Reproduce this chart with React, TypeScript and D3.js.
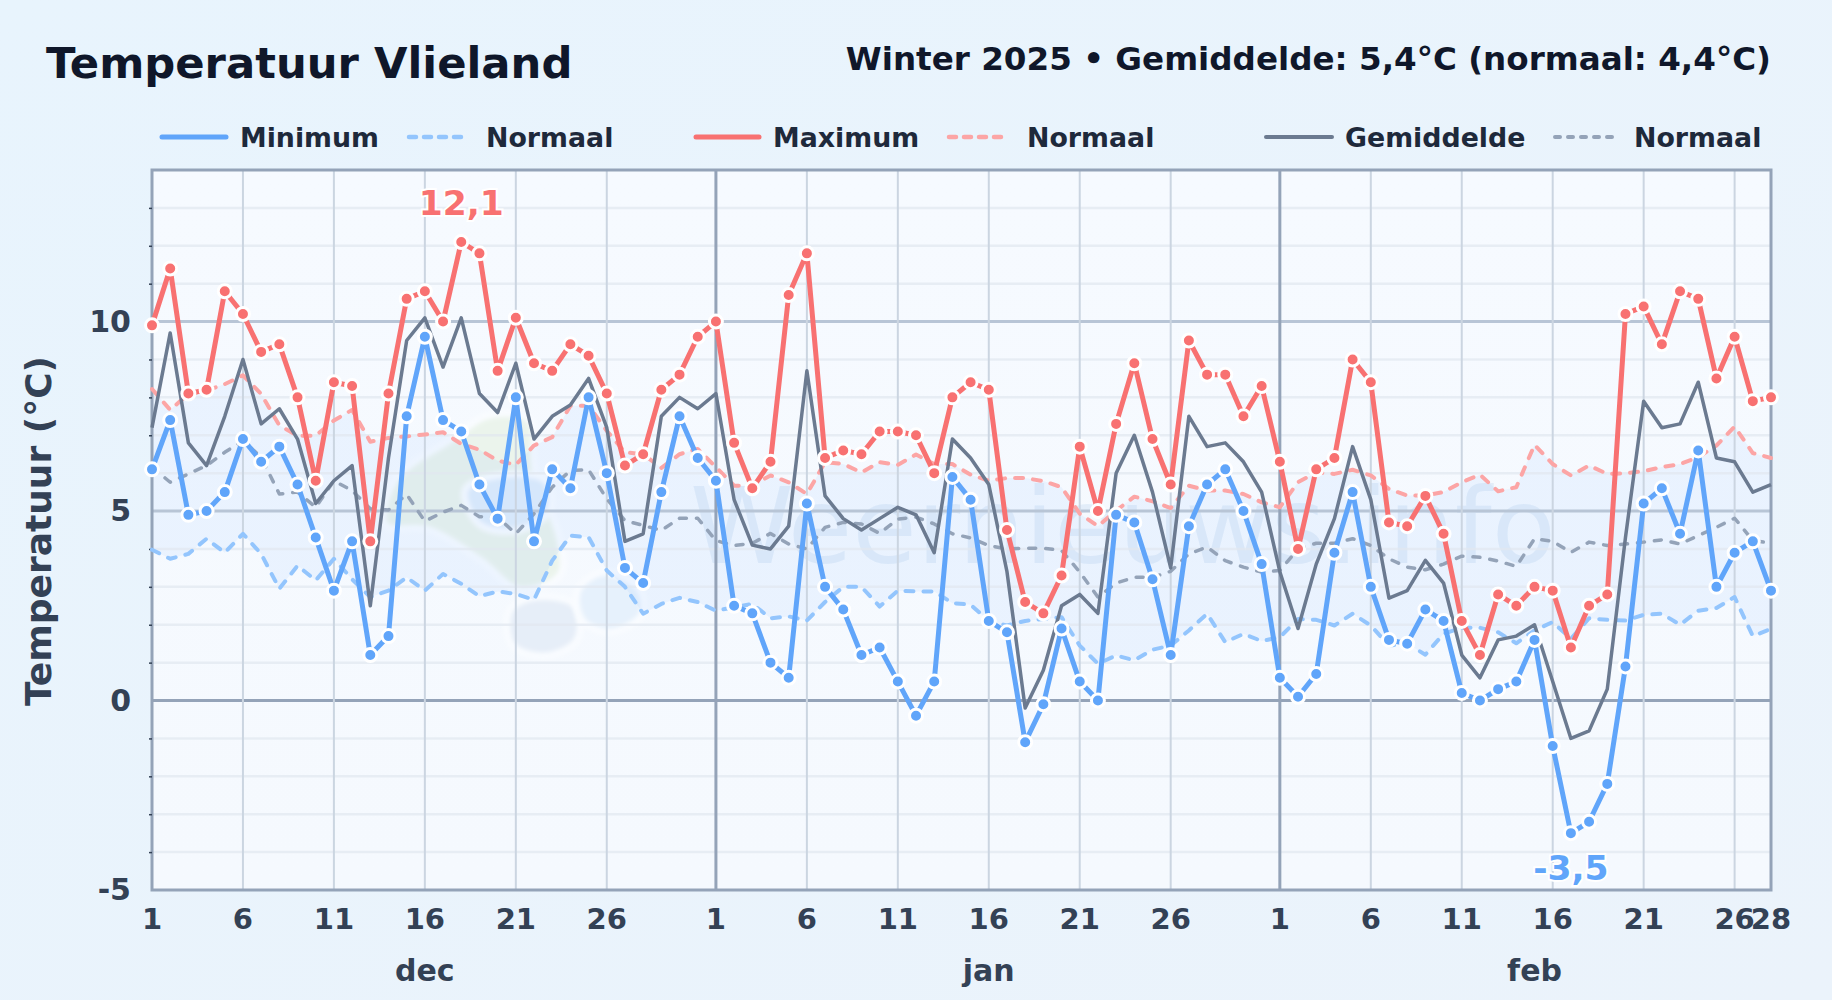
import React, { useEffect, useRef } from 'react';
import * as d3 from 'd3';

const WIDTH = 1832;
const HEIGHT = 1000;

const tempMax = [
  9.9, 11.4, 8.1, 8.2, 10.8, 10.2, 9.2, 9.4, 8.0, 5.8, 8.4, 8.3, 4.2, 8.1, 10.6, 10.8, 10.0, 12.1, 11.8, 8.7, 10.1, 8.9, 8.7, 9.4, 9.1, 8.1, 6.2, 6.5, 8.2, 8.6, 9.6,
  10.0, 6.8, 5.6, 6.3, 10.7, 11.8, 6.4, 6.6, 6.5, 7.1, 7.1, 7.0, 6.0, 8.0, 8.4, 8.2, 4.5, 2.6, 2.3, 3.3, 6.7, 5.0, 7.3, 8.9, 6.9, 5.7, 9.5, 8.6, 8.6, 7.5, 8.3,
  6.3, 4.0, 6.1, 6.4, 9.0, 8.4, 4.7, 4.6, 5.4, 4.4, 2.1, 1.2, 2.8, 2.5, 3.0, 2.9, 1.4, 2.5, 2.8, 10.2, 10.4, 9.4, 10.8, 10.6, 8.5, 9.6, 7.9, 8.0,
];

const tempMin = [
  6.1, 7.4, 4.9, 5.0, 5.5, 6.9, 6.3, 6.7, 5.7, 4.3, 2.9, 4.2, 1.2, 1.7, 7.5, 9.6, 7.4, 7.1, 5.7, 4.8, 8.0, 4.2, 6.1, 5.6, 8.0, 6.0, 3.5, 3.1, 5.5, 7.5, 6.4,
  5.8, 2.5, 2.3, 1.0, 0.6, 5.2, 3.0, 2.4, 1.2, 1.4, 0.5, -0.4, 0.5, 5.9, 5.3, 2.1, 1.8, -1.1, -0.1, 1.9, 0.5, 0.0, 4.9, 4.7, 3.2, 1.2, 4.6, 5.7, 6.1, 5.0, 3.6,
  0.6, 0.1, 0.7, 3.9, 5.5, 3.0, 1.6, 1.5, 2.4, 2.1, 0.2, 0.0, 0.3, 0.5, 1.6, -1.2, -3.5, -3.2, -2.2, 0.9, 5.2, 5.6, 4.4, 6.6, 3.0, 3.9, 4.2, 2.9,
];

const tempMean = [
  7.2, 9.7, 6.8, 6.2, 7.5, 9.0, 7.3, 7.7, 6.9, 5.2, 5.8, 6.2, 2.5, 6.4, 9.5, 10.1, 8.8, 10.1, 8.1, 7.6, 8.9, 6.9, 7.5, 7.8, 8.5, 7.2, 4.2, 4.4, 7.5, 8.0, 7.7,
  8.1, 5.3, 4.1, 4.0, 4.6, 8.7, 5.4, 4.8, 4.5, 4.8, 5.1, 4.9, 3.9, 6.9, 6.4, 5.7, 3.4, -0.2, 0.8, 2.5, 2.8, 2.3, 6.0, 7.0, 5.5, 3.5, 7.5, 6.7, 6.8, 6.3, 5.5,
  3.4, 1.9, 3.6, 4.8, 6.7, 5.3, 2.7, 2.9, 3.7, 3.1, 1.2, 0.6, 1.6, 1.7, 2.0, 0.5, -1.0, -0.8, 0.3, 4.3, 7.9, 7.2, 7.3, 8.4, 6.4, 6.3, 5.5, 5.7,
];

const normalMin = [
  3.98, 3.74, 3.87, 4.27, 3.9, 4.4, 3.87, 2.95, 3.56, 3.17, 3.74, 3.2, 2.73, 2.9, 3.25, 2.9, 3.34, 3.08, 2.75, 2.88, 2.81, 2.66, 3.69, 4.35, 4.31, 3.43, 3.0, 2.29, 2.55, 2.71, 2.6,
  2.37, 2.46, 2.55, 2.17, 2.22, 2.11, 2.6, 3.0, 3.0, 2.48, 2.9, 2.88, 2.88, 2.57, 2.53, 2.1, 1.98, 2.1, 2.15, 2.2, 1.45, 0.97, 1.19, 1.06, 1.34, 1.45, 1.85, 2.29, 1.54, 1.76, 1.57,
  1.67, 2.15, 2.13, 1.98, 2.29, 1.98, 1.45, 1.5, 1.21, 1.76, 1.92, 1.92, 1.8, 1.51, 1.85, 2.07, 1.63, 2.17, 2.13, 2.11, 2.26, 2.29, 2.0, 2.37, 2.44, 2.73, 1.7, 1.89,
];

const normalMax = [
  8.22, 7.67, 8.09, 8.18, 8.35, 8.58, 8.09, 7.26, 6.99, 6.99, 7.39, 7.67, 6.83, 6.93, 6.97, 7.02, 7.08, 6.77, 6.62, 6.33, 6.22, 6.73, 6.95, 7.78, 7.78, 7.12, 6.55, 6.5, 6.14, 6.5, 6.64,
  6.16, 5.67, 5.67, 5.94, 5.76, 5.45, 6.29, 6.24, 6.02, 6.29, 6.22, 6.49, 6.24, 6.24, 5.96, 5.8, 5.87, 5.87, 5.79, 5.63, 4.93, 4.6, 5.01, 5.38, 5.26, 5.08, 5.67, 5.54, 5.54, 5.45, 5.23,
  5.1, 5.76, 6.02, 5.98, 6.09, 5.94, 5.58, 5.41, 5.41, 5.5, 5.76, 5.96, 5.52, 5.63, 6.75, 6.24, 5.94, 6.2, 5.98, 6.0, 6.05, 6.16, 6.24, 6.42, 6.73, 7.23, 6.53, 6.4,
];

const normalMean = [
  6.16, 5.76, 5.98, 6.2, 6.55, 6.86, 6.42, 5.45, 5.5, 5.1, 5.8, 5.54, 5.06, 5.03, 5.44, 4.73, 4.97, 5.15, 4.85, 4.84, 4.4, 4.93, 5.63, 6.07, 6.09, 5.32, 4.75, 4.62, 4.49, 4.81, 4.81,
  4.22, 4.09, 4.15, 4.41, 4.13, 4.0, 4.57, 4.7, 4.66, 4.41, 4.79, 4.84, 4.66, 4.4, 4.29, 4.09, 4.0, 4.02, 4.02, 3.96, 3.39, 2.73, 3.1, 3.25, 3.25, 3.41, 3.87, 4.05, 3.69, 3.52, 3.39,
  3.43, 4.0, 4.15, 4.15, 4.27, 4.09, 3.74, 3.52, 3.45, 3.6, 3.81, 3.78, 3.68, 3.54, 4.27, 4.2, 3.91, 4.18, 4.09, 4.13, 4.18, 4.24, 4.13, 4.35, 4.57, 4.81, 4.22, 4.16,
];

const yMajorTicks = [-5, 0, 5, 10];
const yMinorTicks = [-4, -3, -2, -1, 1, 2, 3, 4, 6, 7, 8, 9, 11, 12, 13];
const monthNames = ['dec', 'jan', 'feb'];
const monthStarts = [0, 31, 62];
const monthLengths = [31, 31, 28];
const dayTicks = [1, 6, 11, 16, 21, 26];

const legendEntries = [
  { label: 'Minimum', color: '#60a5fa', x1: 162, x2: 226, tx: 240, w: 5, dash: '' },
  { label: 'Normaal', color: '#93c5fd', x1: 409, x2: 464, tx: 486, w: 4.5, dash: '7 8' },
  { label: 'Maximum', color: '#f87171', x1: 696, x2: 759, tx: 773, w: 5, dash: '' },
  { label: 'Normaal', color: '#fca5a5', x1: 949, x2: 1005, tx: 1027, w: 4.5, dash: '7 8' },
  { label: 'Gemiddelde', color: '#6b7a90', x1: 1266, x2: 1332, tx: 1345, w: 4, dash: '' },
  { label: 'Normaal', color: '#94a3b8', x1: 1555, x2: 1618, tx: 1634, w: 4, dash: '5 8' },
];

// faint map behind the chart, pixel outlines
const mapBlobs = [
  { fill: '#ebf4ec', pts: [[395, 480], [450, 440], [490, 415], [530, 420], [535, 470], [560, 540], [560, 575], [520, 590], [480, 560], [430, 530], [385, 525]] },
  { fill: '#e0edfb', pts: [[465, 490], [500, 475], [545, 480], [550, 510], [520, 530], [480, 525]] },
  { fill: '#e6eef8', pts: [[510, 610], [535, 597], [575, 605], [577, 640], [545, 656], [512, 645]] },
  { fill: '#e6f1fc', pts: [[578, 590], [605, 572], [640, 590], [642, 615], [610, 632], [582, 620]] },
];

const FONT = '"DejaVu Sans", sans-serif';

const App: React.FC = () => {
  const svgRef = useRef<SVGSVGElement>(null);

  useEffect(() => {
    if (!svgRef.current) return;

    const svg = d3.select(svgRef.current);
    svg.selectAll('*').remove();

    const left = 152;
    const right = 1771;
    const top = 170;
    const bottom = 890;

    const days = d3.range(tempMax.length);
    const x = d3.scaleLinear().domain([0, days.length - 1]).range([left, right]);
    const y = d3.scaleLinear().domain([-5, 14]).range([bottom, top]);

    const defs = svg.append('defs');
    const pageGrad = defs.append('linearGradient').attr('id', 'pageBg')
      .attr('x1', '0').attr('y1', '0').attr('x2', '1').attr('y2', '1');
    pageGrad.append('stop').attr('offset', '0').attr('stop-color', '#e8f4fd');
    pageGrad.append('stop').attr('offset', '1').attr('stop-color', '#ebf3fb');
    const plotGrad = defs.append('linearGradient').attr('id', 'plotBg')
      .attr('x1', '0').attr('y1', '0').attr('x2', '0').attr('y2', '1');
    plotGrad.append('stop').attr('offset', '0').attr('stop-color', '#f6faff');
    plotGrad.append('stop').attr('offset', '1').attr('stop-color', '#f5f9fe');
    defs.append('filter').attr('id', 'soft')
      .append('feGaussianBlur').attr('stdDeviation', 2);
    defs.append('clipPath').attr('id', 'plotClip').append('rect')
      .attr('x', left).attr('y', top).attr('width', right - left).attr('height', bottom - top);

    svg.append('rect').attr('width', WIDTH).attr('height', HEIGHT).attr('fill', 'url(#pageBg)');
    svg.append('rect')
      .attr('x', left).attr('y', top).attr('width', right - left).attr('height', bottom - top)
      .attr('fill', 'url(#plotBg)');

    // watermark
    const wm = svg.append('g').attr('clip-path', 'url(#plotClip)');
    const blob = d3.line().curve(d3.curveCatmullRomClosed);
    wm.selectAll('path').data(mapBlobs).enter().append('path')
      .attr('d', d => blob(d.pts as [number, number][]))
      .attr('fill', d => d.fill)
      .attr('stroke', '#f9fcff')
      .attr('stroke-width', 7)
      .attr('filter', 'url(#soft)');
    wm.append('text')
      .attr('x', 1123).attr('y', 563)
      .attr('text-anchor', 'middle')
      .attr('font-family', FONT)
      .attr('font-size', 105)
      .attr('fill', '#d7e6f6')
      .attr('opacity', 0.6)
      .text('Weernieuws.info');

    // normal band
    const band = d3.area<number>()
      .x(i => x(i))
      .y0(i => y(normalMin[i]))
      .y1(i => y(normalMax[i]));
    svg.append('path').datum(days).attr('d', band).attr('fill', '#60a5fa').attr('opacity', 0.08);

    // grid
    const grid = svg.append('g');
    grid.selectAll('line.minor').data(yMinorTicks).enter().append('line')
      .attr('class', 'minor')
      .attr('x1', left).attr('x2', right).attr('y1', d => y(d)).attr('y2', d => y(d))
      .attr('stroke', '#e2e8f0').attr('stroke-width', 2.5).attr('opacity', 0.7);
    grid.selectAll('line.major').data(yMajorTicks.filter(d => d > 0)).enter().append('line')
      .attr('class', 'major')
      .attr('x1', left).attr('x2', right).attr('y1', d => y(d)).attr('y2', d => y(d))
      .attr('stroke', '#b8c5d6').attr('stroke-width', 3);
    grid.append('line')
      .attr('x1', left).attr('x2', right).attr('y1', y(0)).attr('y2', y(0))
      .attr('stroke', '#94a3b8').attr('stroke-width', 3);

    monthStarts.forEach((start, m) => {
      const ticks = dayTicks.filter(d => d > 1 && d <= monthLengths[m]);
      grid.selectAll(`line.day${m}`).data(ticks).enter().append('line')
        .attr('class', `day${m}`)
        .attr('x1', d => x(start + d - 1)).attr('x2', d => x(start + d - 1))
        .attr('y1', top).attr('y2', bottom)
        .attr('stroke', '#cbd5e1').attr('stroke-width', 2);
    });
    grid.selectAll('line.month').data(monthStarts.slice(1)).enter().append('line')
      .attr('class', 'month')
      .attr('x1', d => x(d)).attr('x2', d => x(d))
      .attr('y1', top).attr('y2', bottom)
      .attr('stroke', '#94a3b8').attr('stroke-width', 3);

    // frame
    svg.append('rect')
      .attr('x', left).attr('y', top).attr('width', right - left).attr('height', bottom - top)
      .attr('fill', 'none').attr('stroke', '#94a3b8').attr('stroke-width', 3);

    // axes
    const yAxis = svg.append('g')
      .attr('transform', `translate(${left},0)`)
      .call(d3.axisLeft(y).tickValues(yMajorTicks).tickSize(0).tickPadding(21).tickFormat(d => String(d)));
    yAxis.select('.domain').remove();
    yAxis.selectAll('text')
      .attr('font-family', FONT).attr('font-size', 30).attr('font-weight', 700).attr('fill', '#334155');

    svg.append('g')
      .attr('transform', `translate(${left},0)`)
      .call(d3.axisLeft(y).tickValues(yMinorTicks).tickSize(3).tickFormat(() => ''))
      .call(g => g.select('.domain').remove())
      .selectAll('line').attr('stroke', '#334155').attr('stroke-width', 1.5);

    const labels = svg.append('g');
    const tickIdx: { i: number; label: string }[] = [];
    monthStarts.forEach((start, m) => {
      dayTicks.forEach(d => tickIdx.push({ i: start + d - 1, label: String(d) }));
      if (m === 2) tickIdx.push({ i: 89, label: '28' });
    });
    labels.selectAll('text.day').data(tickIdx).enter().append('text')
      .attr('class', 'day')
      .attr('x', d => x(d.i)).attr('y', 929)
      .attr('text-anchor', 'middle')
      .attr('font-family', FONT).attr('font-size', 29).attr('font-weight', 700).attr('fill', '#334155')
      .text(d => d.label);
    labels.selectAll('text.month').data(monthNames).enter().append('text')
      .attr('class', 'month')
      .attr('x', (d, m) => x(monthStarts[m] + Math.floor(monthLengths[m] / 2)))
      .attr('y', 981)
      .attr('text-anchor', 'middle')
      .attr('font-family', FONT).attr('font-size', 30).attr('font-weight', 700).attr('fill', '#334155')
      .text(d => d);

    svg.append('text')
      .attr('transform', `translate(51,${(top + bottom) / 2 + 1}) rotate(-90)`)
      .attr('text-anchor', 'middle')
      .attr('font-family', FONT).attr('font-size', 36).attr('font-weight', 700).attr('fill', '#334155')
      .text('Temperatuur (°C)');

    // titles
    svg.append('text')
      .attr('x', 46).attr('y', 78)
      .attr('font-family', FONT).attr('font-size', 43.3).attr('font-weight', 700).attr('fill', '#0f172a')
      .text('Temperatuur Vlieland');
    svg.append('text')
      .attr('x', 1771).attr('y', 70)
      .attr('text-anchor', 'end')
      .attr('font-family', FONT).attr('font-size', 32.6).attr('font-weight', 700).attr('fill', '#0f172a')
      .text('Winter 2025 • Gemiddelde: 5,4°C (normaal: 4,4°C)');

    // legend
    const legend = svg.append('g');
    legendEntries.forEach(e => {
      legend.append('line')
        .attr('x1', e.x1).attr('x2', e.x2).attr('y1', 137).attr('y2', 137)
        .attr('stroke', e.color).attr('stroke-width', e.w)
        .attr('stroke-linecap', 'round')
        .attr('stroke-dasharray', e.dash || null);
      legend.append('text')
        .attr('x', e.tx).attr('y', 146.5)
        .attr('font-family', FONT).attr('font-size', 26.8).attr('font-weight', 700).attr('fill', '#1e293b')
        .text(e.label);
    });

    // series
    const lineOf = (values: number[]) => d3.line<number>().x(i => x(i)).y(i => y(values[i]))(days);
    const drawLine = (values: number[], color: string, w: number, dash?: string) =>
      svg.append('path')
        .attr('d', lineOf(values))
        .attr('fill', 'none')
        .attr('stroke', color)
        .attr('stroke-width', w)
        .attr('stroke-linejoin', 'round')
        .attr('stroke-linecap', dash ? 'round' : 'butt')
        .attr('stroke-dasharray', dash || null);

    drawLine(normalMin, '#93c5fd', 4, '8 10');
    drawLine(normalMax, '#fca5a5', 4, '8 10');
    drawLine(normalMean, '#94a3b8', 3.5, '7 10');
    drawLine(tempMean, '#6b7a90', 3.5);
    drawLine(tempMax, '#f87171', 5);
    drawLine(tempMin, '#60a5fa', 5);

    const drawDots = (values: number[], color: string) =>
      svg.append('g').selectAll('circle').data(days).enter().append('circle')
        .attr('cx', i => x(i))
        .attr('cy', i => y(values[i]))
        .attr('r', 6.5)
        .attr('fill', color)
        .attr('stroke', '#ffffff')
        .attr('stroke-width', 3);
    drawDots(tempMax, '#f87171');
    drawDots(tempMin, '#60a5fa');

    // extremes
    const maxIdx = d3.maxIndex(tempMax);
    const minIdx = d3.minIndex(tempMin);
    const extreme = (i: number, value: number, color: string, ty: number) =>
      svg.append('text')
        .attr('x', x(i)).attr('y', ty)
        .attr('text-anchor', 'middle')
        .attr('font-family', FONT).attr('font-size', 34.5).attr('font-weight', 700)
        .attr('fill', color)
        .attr('stroke', '#ffffff').attr('stroke-width', 4).attr('paint-order', 'stroke')
        .text(String(value).replace('.', ','));
    extreme(maxIdx, tempMax[maxIdx], '#f87171', 215);
    extreme(minIdx, tempMin[minIdx], '#60a5fa', 880);
  }, []);

  return (
    <svg
      ref={svgRef}
      width={WIDTH}
      height={HEIGHT}
      style={{ position: 'absolute', left: 0, top: 0 }}
    ></svg>
  );
};

export default App;
